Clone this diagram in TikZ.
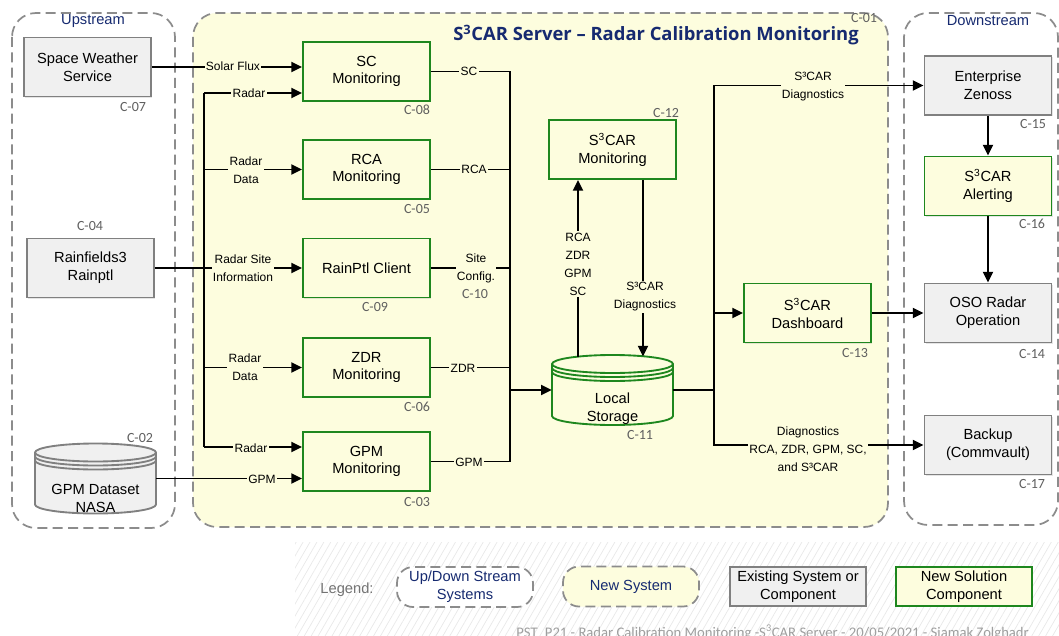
\documentclass[tikz,border=0pt]{standalone}
\usepackage{fontspec}
\setmainfont{Liberation Sans}
\newfontfamily\titlefont{Open Sans}
\newfontfamily\cfont{Carlito}
\usetikzlibrary{arrows.meta,calc,shadows,patterns.meta}
\definecolor{ybg}{RGB}{253,253,222}
\definecolor{gborder}{RGB}{30,135,30}
\definecolor{gfill}{RGB}{240,240,240}
\definecolor{gline}{RGB}{128,128,128}
\definecolor{navy}{RGB}{22,42,112}
\definecolor{clab}{RGB}{95,95,95}
\definecolor{dashc}{RGB}{140,140,140}
% cylinder: #1 centre coordinate, #2 fill, #3 border colour
\newcommand{\cylshape}[3]{%
  \filldraw[fill=#2, draw=#3, line width=1.4pt]
    ($(#1)+(-45.375pt,19.5pt)$) -- ($(#1)+(-45.375pt,-19.5pt)$)
    arc[start angle=180, end angle=360, x radius=45.375pt, y radius=6.75pt]
    -- ($(#1)+(45.375pt,19.5pt)$)
    arc[start angle=0, end angle=180, x radius=45.375pt, y radius=6.75pt] -- cycle;
  \foreach \d in {0,3,6}{%
    \draw[draw=#3, line width=1.4pt] ($(#1)+(-45.375pt,19.5pt-\d pt)$)
      arc[start angle=180, end angle=360, x radius=45.375pt, y radius=6.75pt];
  }%
}
\begin{document}
\begin{tikzpicture}[x=0.75pt,y=-0.75pt,
  boxfont/.style={font=\fontsize{11}{13.3}\selectfont},
  exist/.style={draw=gline, fill=gfill, line width=1.4pt, minimum width=95.25pt,
    minimum height=44.25pt, align=center, inner sep=0pt, boxfont,
    drop shadow={opacity=0.2, shadow xshift=1pt, shadow yshift=-1pt}},
  newc/.style={exist, draw=gborder, fill=ybg},
  cylnode/.style={minimum width=90.75pt, minimum height=52.5pt, inner sep=0pt},
  clabel/.style={font=\cfont\fontsize{10.5}{12}\selectfont, text=clab, inner sep=0pt},
  lab/.style={font=\fontsize{9}{13.5}\selectfont, fill=ybg, inner sep=1pt, align=center},
  conn/.style={line width=1.4pt},
  arr/.style={conn, -{Triangle[length=8pt,width=7.5pt]}},
  container/.style={draw=dashc, line width=1.3pt, dash pattern=on 7.5pt off 4pt, rounded corners=18pt},
  legbox/.style={draw=dashc, line width=1.3pt, dash pattern=on 7.5pt off 4pt, rounded corners=12pt,
    minimum width=102pt, minimum height=30pt, align=center, inner sep=0pt, text=navy,
    font=\fontsize{11}{13.5}\selectfont},
]
\useasboundingbox (0,0) rectangle (1059,635);
\fill[white] (0,0) rectangle (1059,635);
% legend background hatch
\fill[pattern={Lines[angle=60,distance=4.5pt,line width=0.5pt]}, pattern color=gray!18] (295,542) rectangle (1059,635);

% containers
\draw[container] (12,13) rectangle (175,528);
\draw[container, fill=ybg] (193,13) rectangle (888,527);
\draw[container] (904,13) rectangle (1058,525);
\node[text=navy, font=\fontsize{11}{13}\selectfont] (upt) at (93,21) {Upstream};
\node[text=navy, font=\fontsize{11}{13}\selectfont] (dnt) at (988,21) {Downstream};
\node[text=navy, font=\titlefont\bfseries\fontsize{13.8}{16}\selectfont, anchor=base] (title) at (656,41)
  {S\textsuperscript{3}CAR Server – Radar Calibration Monitoring};
\node[clabel] (c01) at (864,18) {C-01};

% upstream systems
\node[exist] (sws) at (87.5,67) {Space Weather\\Service};
\node[exist] (rain) at (90.5,268) {Rainfields3\\Rainptl};
\coordinate (gpmdc) at (95.5,478.5);
\cylshape{gpmdc}{gfill}{gline}
\node[cylnode, label={[boxfont, align=center, yshift=-15pt]center:GPM Dataset\\NASA}] (gpmd) at (gpmdc) {};

% new components
\node[newc] (sc) at (366.5,71.5) {SC\\Monitoring};
\node[newc] (rca) at (366.5,169.5) {RCA\\Monitoring};
\node[newc] (rpc) at (366.5,268) {RainPtl Client};
\node[newc] (zdr) at (366.5,367.5) {ZDR\\Monitoring};
\node[newc] (gpmm) at (366.5,461.5) {GPM\\Monitoring};
\node[newc] (s3m) at (612.5,149.5) {S\textsuperscript{3}CAR\\Monitoring};
\coordinate (lsc) at (612.5,390);
\cylshape{lsc}{ybg}{gborder}
\node[cylnode, label={[boxfont, align=center, yshift=-14.25pt]center:Local\\Storage}] (ls) at (lsc) {};
\node[newc] (dash) at (807.5,313) {S\textsuperscript{3}CAR\\Dashboard};

% downstream
\node[exist] (zen) at (988,85.5) {Enterprise\\Zenoss};
\node[newc] (alert) at (988,186) {S\textsuperscript{3}CAR\\Alerting};
\node[exist] (oso) at (988,313) {OSO Radar\\Operation};
\node[exist] (backup) at (988,445) {Backup\\(Commvault)};

% component labels
\node[clabel] (c07) at (133,107) {C-07};
\node[clabel] (c04) at (90,226) {C-04};
\node[clabel] (c02) at (140,438) {C-02};
\node[clabel] (c08) at (417,110) {C-08};
\node[clabel] (c05) at (417,209) {C-05};
\node[clabel] (c09) at (375,307) {C-09};
\node[clabel] (c06) at (417,407) {C-06};
\node[clabel] (c03) at (417,502) {C-03};
\node[clabel] (c12) at (666,113) {C-12};
\node[clabel] (c11) at (640,435) {C-11};
\node[clabel] (c10) at (475,294) {C-10};
\node[clabel] (c13) at (855,353) {C-13};
\node[clabel] (c14) at (1032,354) {C-14};
\node[clabel] (c15) at (1033,124) {C-15};
\node[clabel] (c16) at (1032,224) {C-16};
\node[clabel] (c17) at (1032,484) {C-17};

% inputs
\draw[arr] (sws.east) -- (sws.east -| sc.west);
\coordinate (bl1) at (204,93);
\coordinate (bl5) at (204,447);
\draw[conn] (bl1) -- (bl5);
\draw[arr] (bl1) -- (bl1 -| sc.west);
\draw[arr] (bl1 |- rca.west) -- (rca.west);
\draw[arr] (rain.east) -- (rain.east -| rpc.west);
\draw[arr] (bl1 |- zdr.west) -- (zdr.west);
\draw[arr] (bl5) -- (bl5 -| gpmm.west);
\draw[arr] (gpmd.east) -- (gpmd.east -| gpmm.west);

% outputs to storage
\coordinate (brx) at (510,390);
\draw[conn] (sc.east) -| (brx);
\draw[conn] (gpmm.east) -| (brx);
\draw[conn] (rca.east) -- (rca.east -| brx);
\draw[conn] (rpc.east) -- (rpc.east -| brx);
\draw[conn] (zdr.east) -- (zdr.east -| brx);
\draw[arr] (brx) -- (ls.west);

% storage <-> S3CAR monitoring
\coordinate (lsup) at (578,357);
\coordinate (lsdn) at (643,356.5);
\draw[arr] (lsup) -- (lsup |- s3m.south);
\draw[arr] (lsdn |- s3m.south) -- (lsdn);

% storage out
\coordinate (bo) at (714,390);
\draw[conn] (ls.east) -- (bo);
\draw[arr] (bo) |- (zen.west);
\draw[arr] (bo |- dash.west) -- (dash.west);
\draw[arr] (bo) |- (backup.west);
\draw[arr] (dash.east) -- (oso.west);
\draw[arr] (zen.south) -- (alert.north);
\draw[arr] (alert.south) -- (oso.north);

% connector labels
\node[lab] (l1) at (233,66) {Solar Flux};
\node[lab] (l2) at (249,93) {Radar};
\node[lab] (l3) at (246,170) {Radar\\Data};
\node[lab] (l4) at (243,268) {Radar Site\\Information};
\node[lab] (l5) at (245,367) {Radar\\Data};
\node[lab] (l6) at (251,448) {Radar};
\node[lab] (l7) at (262,479) {GPM};
\node[lab] (l8) at (469,71) {SC};
\node[lab] (l9) at (474,169) {RCA};
\node[lab] (l10) at (476,268) {Site\\Config.};
\node[lab] (l11) at (463,368) {ZDR};
\node[lab] (l12) at (469,462) {GPM};
\node[lab] (l13) at (578,264) {RCA\\ZDR\\GPM\\SC};
\node[lab] (l14) at (645,297) {S³CAR\\Diagnostics};
\node[lab] (l15) at (813,87) {S³CAR\\Diagnostics};
\node[lab] (l16) at (808,449) {Diagnostics\\RCA, ZDR, GPM, SC,\\and S³CAR};

% legend
\node[text=gray!90!black, font=\fontsize{11}{13}\selectfont] (legt) at (347,590) {Legend:};
\node[legbox, fill=white] (lg1) at (465,587) {Up/Down Stream\\Systems};
\node[legbox, fill=ybg] (lg2) at (631,586.5) {New System};
\node[exist, minimum width=102pt, minimum height=29.25pt, font=\fontsize{11}{13.5}\selectfont] (lg3) at (798,586.5) {Existing System or\\Component};
\node[newc, minimum width=102pt, minimum height=29.25pt, font=\fontsize{11}{13.5}\selectfont] (lg4) at (964,586.5) {New Solution\\Component};
\node[anchor=base west, text=gray!75, font=\cfont\fontsize{11}{13}\selectfont, inner sep=0pt] (foot) at (516,637)
  {PST\_P21 - Radar Calibration Monitoring -S\textsuperscript{3}CAR Server - 20/05/2021 - Siamak Zolghadr};
\end{tikzpicture}
\end{document}
